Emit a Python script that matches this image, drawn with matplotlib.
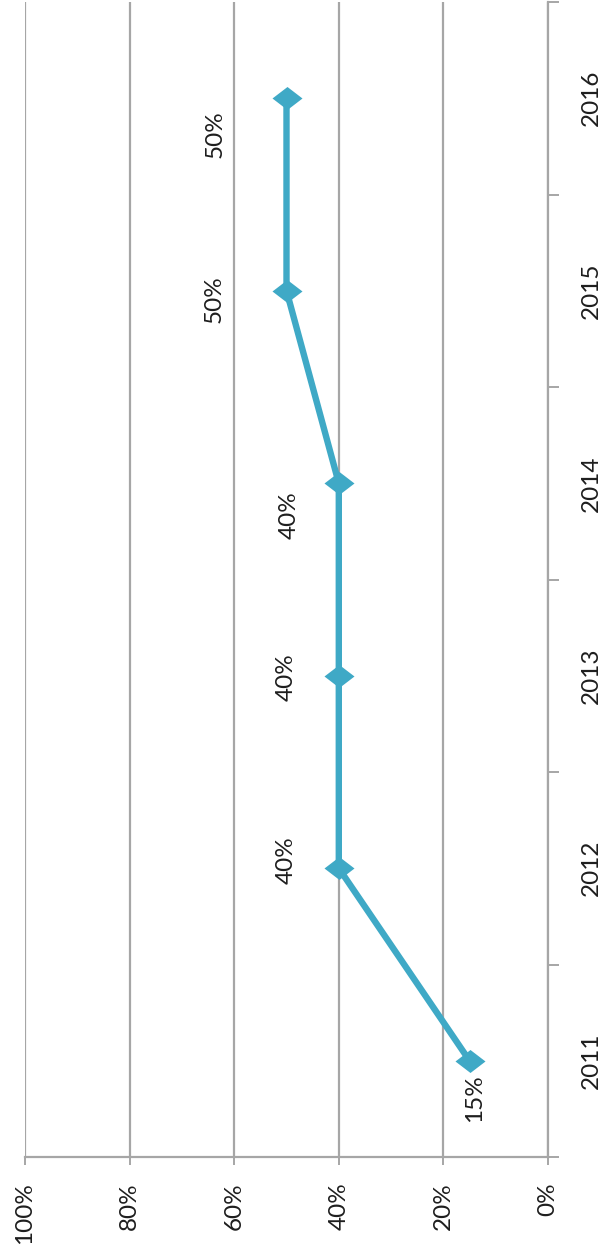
import matplotlib
matplotlib.use("Agg")
import matplotlib.pyplot as plt
import numpy as np
from matplotlib.path import Path

plt.rcParams['font.family'] = ['Lato', 'DejaVu Sans']

# Data
years = ['2011', '2012', '2013', '2014', '2015', '2016']
shares = [0.15, 0.40, 0.40, 0.40, 0.50, 0.50]
share_labels = ['15%', '40%', '40%', '40%', '50%', '50%']
value_ticks = [0.0, 0.2, 0.4, 0.6, 0.8, 1.0]
value_tick_labels = ['0%', '20%', '40%', '60%', '80%', '100%']

# Label offsets from each point (pixels, x right / y up)
label_offsets = [(5, -37), (-53, 8), (-53, -1), (-50, -32), (-72, -8), (-71, -36)]

W, H, DPI = 605, 1247, 100
FS = 17.5
fig = plt.figure(figsize=(W / DPI, H / DPI), dpi=DPI)
ax = fig.add_axes([25 / W, 1 - 1157 / H, (548 - 25) / W, (1157 - 2) / H])

LINE = '#3FA9C6'
GRID = '#A6A6A6'
TEXT = '#1E1E1E'

ypos = np.arange(len(years))

# Flattened diamond marker
diamond = Path([(-15, 0), (0, 11.5), (15, 0), (0, -11.5), (-15, 0)],
               [Path.MOVETO, Path.LINETO, Path.LINETO, Path.LINETO, Path.CLOSEPOLY])

ax.plot(shares, ypos, color=LINE, lw=4.6, marker=diamond, markersize=21.6,
        markeredgewidth=0, solid_joinstyle='miter', zorder=3, clip_on=False)

for x, y, txt, (dx, dy) in zip(shares, ypos, share_labels, label_offsets):
    ax.annotate(txt, (x, y), xytext=(dx, dy), textcoords='offset pixels',
                rotation=90, ha='center', va='center', fontsize=FS, color=TEXT)

ax.set_xlim(1.0, 0.0)
ax.set_ylim(-0.5, len(years) - 0.5)

# Value axis (bottom)
ax.set_xticks(value_ticks)
ax.set_xticklabels(value_tick_labels, rotation=90, fontsize=FS, color=TEXT)
ax.tick_params(axis='x', direction='out', length=6, width=1.4, color=GRID, pad=12)
ax.xaxis.grid(True, color=GRID, lw=1.6)

# Category axis (right)
ax.yaxis.tick_right()
ax.set_yticks(np.arange(-0.5, len(years), 1.0))
ax.set_yticklabels([])
ax.set_yticks(ypos, minor=True)
ax.set_yticklabels(years, minor=True, rotation=90, va='center', fontsize=FS, color=TEXT)
ax.tick_params(axis='y', which='major', direction='out', length=8, width=1.4, color=GRID,
               right=True, left=False)
ax.tick_params(axis='y', which='minor', length=0, pad=24, right=True, left=False)

for side in ['left', 'top']:
    ax.spines[side].set_visible(False)
for side in ['right', 'bottom']:
    ax.spines[side].set_color(GRID)
    ax.spines[side].set_linewidth(1.6)

ax.set_axisbelow(True)
fig.savefig('out.png', dpi=DPI)
